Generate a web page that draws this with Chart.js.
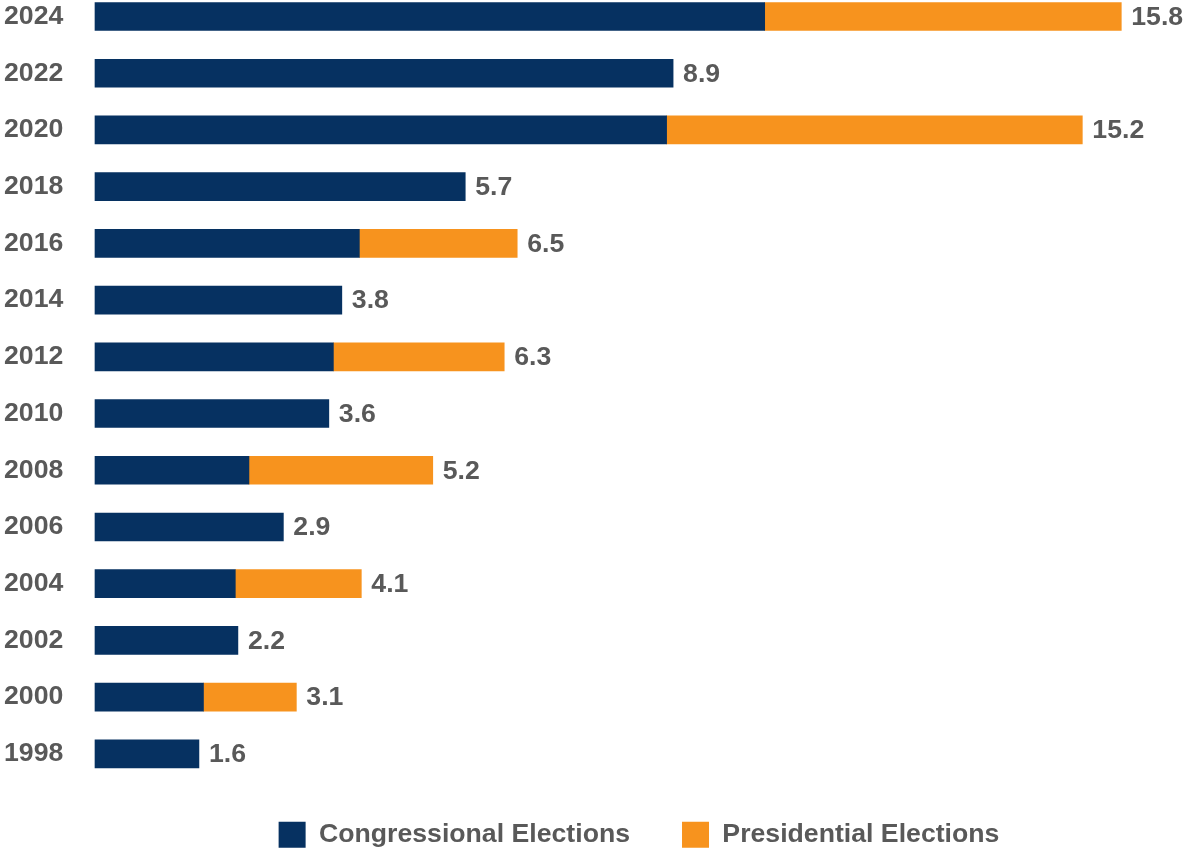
<!DOCTYPE html>
<html>
<head>
<meta charset="utf-8">
<script src="https://cdn.jsdelivr.net/npm/chart.js@4"></script>
<style>
  body { margin: 0; background: #fff; overflow: hidden; }
  #wrap { width: 1183px; height: 851px; position: relative; }
</style>
</head>
<body>
<div id="wrap"><canvas id="electionChart"></canvas></div>
<script>
// Election years, top to bottom
const years = ['2024', '2022', '2020', '2018', '2016', '2014', '2012', '2010', '2008', '2006', '2004', '2002', '2000', '1998'];

// Congressional share of each cycle
const congressional = [10.31, 8.9, 8.8, 5.7, 4.07, 3.8, 3.67, 3.6, 2.37, 2.9, 2.16, 2.2, 1.67, 1.6];

// Presidential share (only in presidential years)
const presidential = [5.49, null, 6.4, null, 2.43, null, 2.63, null, 2.83, null, 1.94, null, 1.43, null];

const seriesNames = ['Congressional Elections', 'Presidential Elections'];

const navy = '#063161';
const orange = '#F7931E';
const textGray = '#595959';
const fontSize = 26.67;

Chart.defaults.font.family = "'Liberation Sans', Arial, sans-serif";

// Draw the total at the end of each bar
const totalLabels = {
    id: 'totalLabels',
    afterDatasetsDraw(chart) {
        const ctx = chart.ctx;
        ctx.save();
        ctx.font = 'bold ' + fontSize + 'px "Liberation Sans", Arial, sans-serif';
        ctx.fillStyle = textGray;
        ctx.textAlign = 'left';
        ctx.textBaseline = 'middle';
        years.forEach((year, i) => {
            let endX = null;
            let endY = null;
            let total = 0;
            chart.data.datasets.forEach((ds, d) => {
                const v = ds.data[i];
                if (v === null || v === undefined) return;
                total += v;
                const bar = chart.getDatasetMeta(d).data[i];
                endX = bar.x;
                endY = bar.y;
            });
            if (endX !== null) {
                ctx.fillText(total.toFixed(1), endX + 10, endY + 1);
            }
        });
        ctx.restore();
    }
};

const ctx = document.getElementById('electionChart').getContext('2d');

new Chart(ctx, {
    type: 'bar',
    data: {
        labels: years,
        datasets: [{
            label: seriesNames[0],
            data: congressional,
            backgroundColor: navy,
            borderWidth: 0,
            barThickness: 28,
            clip: false
        }, {
            label: seriesNames[1],
            data: presidential,
            backgroundColor: orange,
            borderWidth: 0,
            barThickness: 28,
            clip: false
        }]
    },
    options: {
        indexAxis: 'y',
        responsive: true,
        maintainAspectRatio: false,
        animation: false,
        layout: {
            padding: { top: 16.5, left: 4, right: 0, bottom: -7 }
        },
        scales: {
            x: {
                stacked: true,
                min: 0,
                max: 16.75,
                grid: { display: false, drawTicks: false },
                border: { display: false },
                ticks: { display: false },
                afterFit: function(scale) {
                    scale.height = 15.5;
                }
            },
            y: {
                stacked: true,
                offset: false,
                grid: { display: false, drawTicks: false },
                border: { display: false },
                ticks: {
                    autoSkip: false,
                    padding: 0,
                    crossAlign: 'far',
                    color: textGray,
                    font: { size: fontSize, weight: 'bold' }
                },
                afterFit: function(scale) {
                    scale.width = 91;
                }
            }
        },
        plugins: {
            legend: {
                position: 'bottom',
                fullSize: false,
                labels: {
                    boxWidth: 27,
                    boxHeight: 26,
                    padding: 52,
                    color: textGray,
                    font: { size: fontSize, weight: 'bold' }
                }
            },
            tooltip: { enabled: false }
        }
    },
    plugins: [totalLabels]
});
</script>
</body>
</html>
